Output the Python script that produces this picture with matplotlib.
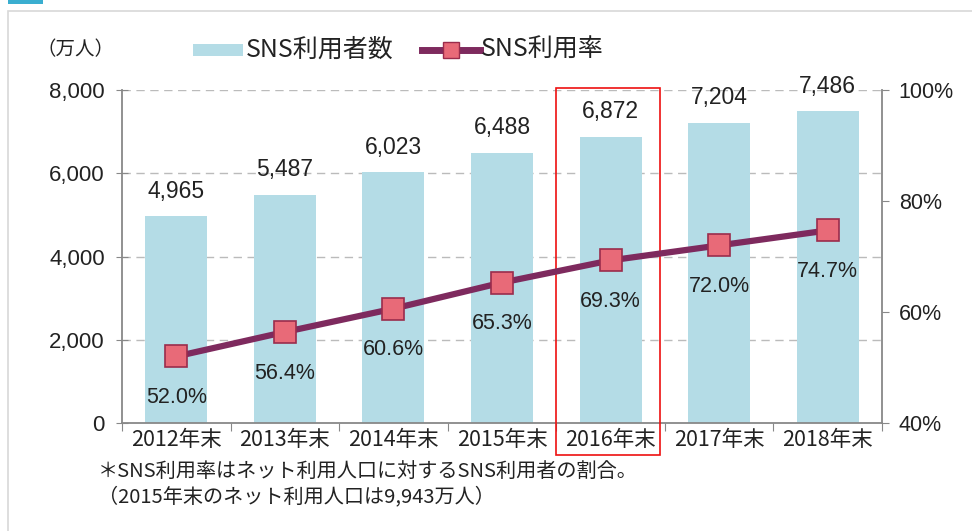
import matplotlib
matplotlib.use("Agg")
import matplotlib.pyplot as plt
from matplotlib.patches import Rectangle
from matplotlib.lines import Line2D

plt.rcParams['font.family'] = ['Noto Sans CJK JP', 'DejaVu Sans']

categories = ["2012年末", "2013年末", "2014年末", "2015年末", "2016年末", "2017年末", "2018年末"]
users = [4965, 5487, 6023, 6488, 6872, 7204, 7486]
rate = [52.0, 56.4, 60.6, 65.3, 69.3, 72.0, 74.7]
left_ticks = [0, 2000, 4000, 6000, 8000]
right_ticks = [40, 60, 80, 100]

W, H = 972, 531
fig = plt.figure(figsize=(W / 100, H / 100), dpi=100)
fig.patch.set_facecolor("white")

# outer frame and decoration
fig.patches.append(Rectangle((8 / W, -0.01), (W - 8) / W + 0.02, (H - 11) / H + 0.01,
                             transform=fig.transFigure, facecolor="none",
                             edgecolor="#d8d8d8", linewidth=1.2, zorder=-5))
fig.patches.append(Rectangle((8 / W, 1 - 4 / H), 35 / W, 4 / H, transform=fig.transFigure,
                             facecolor="#3aaed0", edgecolor="none", zorder=-5))

num_font = "Liberation Sans"
txt_color = "#222222"

ax = fig.add_axes([122 / W, 1 - 423 / H, (882 - 122) / W, (423 - 90) / H])
ax.set_facecolor("none")
x = list(range(len(categories)))
bar_color = "#b4dce6"
ax.bar(x, users, width=0.57, color=bar_color, zorder=2)
ax.set_xlim(-0.5, len(categories) - 0.5)
ax.set_ylim(0, 8000)
ax.set_yticks(left_ticks)
ax.set_yticklabels([f"{v:,}" for v in left_ticks], fontsize=16, color=txt_color,
                   family=num_font)
ax.set_xticks([i + 0.5 for i in range(-1, len(categories))])
ax.set_xticklabels([])
ax.set_xticks(x, minor=True)
ax.set_xticklabels(categories, minor=True, fontsize=15.5, color=txt_color)
ax.tick_params(axis="x", which="minor", length=0, pad=4)
ax.tick_params(axis="x", which="major", length=6, color="#888888", direction="out")
ax.tick_params(axis="y", length=9, color="#888888", direction="inout", pad=8)
for v in left_ticks[1:]:
    ax.axhline(v, color="#bbbbbb", linestyle=(0, (6, 4)), linewidth=1.0, zorder=1)
for s in ["top", "right"]:
    ax.spines[s].set_visible(False)
for s in ["left", "bottom"]:
    ax.spines[s].set_color("#888888")
    ax.spines[s].set_linewidth(1.3)

for xi, v in zip(x, users):
    ax.text(xi, v + 330, f"{v:,}", ha="center", va="bottom", fontsize=16.5,
            color=txt_color, family=num_font)

ax2 = ax.twinx()
ax2.set_ylim(40, 100)
ax2.set_yticks(right_ticks)
ax2.set_yticklabels([f"{v}%" for v in right_ticks], fontsize=15.5, color=txt_color,
                    family=num_font)
ax2.tick_params(axis="y", length=5, color="#888888", direction="out", pad=7)
for s in ["top", "left", "bottom"]:
    ax2.spines[s].set_visible(False)
ax2.spines["right"].set_color("#888888")
ax2.spines["right"].set_linewidth(1.3)

line_color = "#7e2a5e"
marker_face = "#e86a78"
marker_edge = "#9a2c4c"
ax2.plot(x, rate, color=line_color, linewidth=4.5, zorder=3, solid_capstyle="butt")
ax2.plot(x, rate, linestyle="none", marker="s", markersize=16.5, markerfacecolor=marker_face,
         markeredgecolor=marker_edge, markeredgewidth=1.2, zorder=4)
for xi, r in zip(x, rate):
    ax2.text(xi, r - 5.5, f"{r:.1f}%", ha="center", va="top", fontsize=15.5,
             color=txt_color, family=num_font)

# red highlight box around 2016
ax.add_patch(Rectangle((3.5, -770), 0.955, 8820, facecolor="none", edgecolor="#ee1111",
                       linewidth=1.2, clip_on=False, zorder=6))

# unit label and legend
ly = 1 - 50 / H
fig.text(36 / W, ly, "（万人）", fontsize=14, ha="left", va="center", color=txt_color)
fig.patches.append(Rectangle((193 / W, ly - 6 / H), 50 / W, 12 / H, transform=fig.transFigure,
                             facecolor=bar_color, edgecolor="none"))
fig.text(246 / W, ly, "SNS利用者数", fontsize=18, ha="left", va="center", color=txt_color)
fig.lines.append(Line2D([422 / W, 480 / W], [ly, ly], transform=fig.transFigure,
                        color=line_color, linewidth=5))
fig.lines.append(Line2D([451 / W], [ly], transform=fig.transFigure, marker="s",
                        markersize=12, markerfacecolor=marker_face, markeredgecolor=marker_edge,
                        markeredgewidth=1.0, linestyle="none"))
fig.text(481 / W, ly, "SNS利用率", fontsize=18, ha="left", va="center", color=txt_color)

# footnotes
fig.text(98 / W, 1 - 471 / H, "＊SNS利用率はネット利用人口に対するSNS利用者の割合。", fontsize=14.5,
         ha="left", va="center", color=txt_color)
fig.text(98 / W, 1 - 497 / H, "（2015年末のネット利用人口は9,943万人）", fontsize=14.5,
         ha="left", va="center", color=txt_color)

fig.savefig("out.png", dpi=100)
